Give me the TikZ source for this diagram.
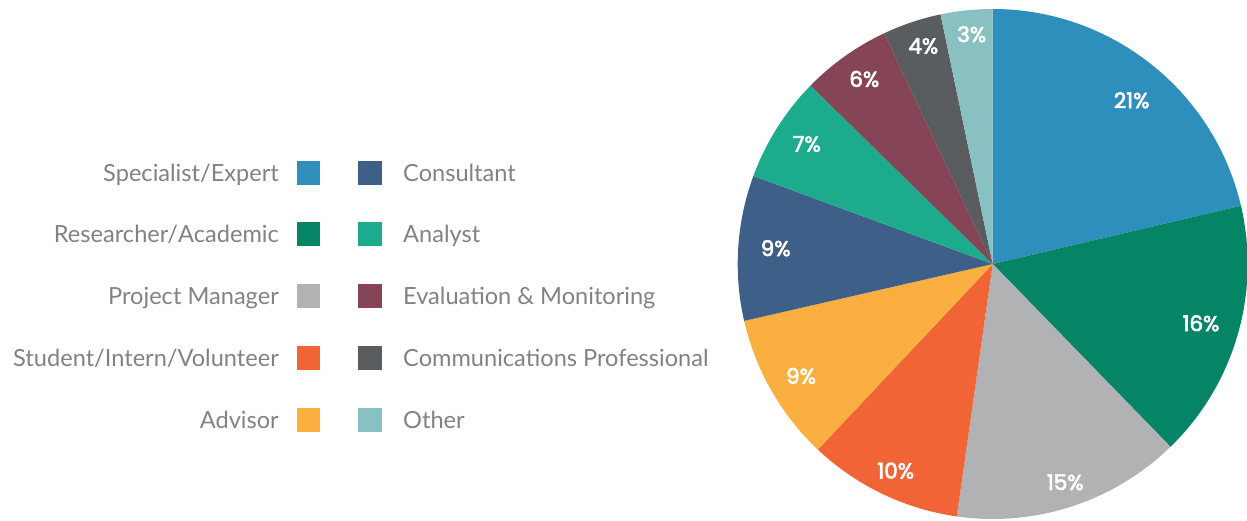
\documentclass[tikz,border=0pt]{standalone}
\usepackage{fontspec}
\setmainfont{Lato}
\newfontfamily\pctfont[FakeBold=3]{Poppins}
\definecolor{cSpec}{HTML}{2E8FBD}
\definecolor{cRes}{HTML}{068566}
\definecolor{cPM}{HTML}{B1B2B3}
\definecolor{cStu}{HTML}{F06436}
\definecolor{cAdv}{HTML}{FBAF41}
\definecolor{cCon}{HTML}{3E5F88}
\definecolor{cAna}{HTML}{1DAB8D}
\definecolor{cEva}{HTML}{864556}
\definecolor{cCom}{HTML}{5A5D5F}
\definecolor{cOth}{HTML}{89C0C1}
\definecolor{legtext}{HTML}{808285}
\begin{document}
\begin{tikzpicture}[x=1pt,y=-1pt,
  pct/.style={text=white,font=\pctfont\fontsize{21.5}{21.5}\selectfont,inner sep=0pt},
  legl/.style={text=legtext,font=\fontsize{23.6}{23.6}\selectfont,anchor=base east,inner sep=0pt},
  legr/.style={text=legtext,font=\fontsize{23.6}{23.6}\selectfont,anchor=base west,inner sep=0pt},
  sq/.style={minimum size=23.5pt,inner sep=0pt,draw=none}]
\useasboundingbox (0,0) rectangle (1247,521);
\coordinate (c) at (992.7,264);
\def\R{255}
\foreach \a/\b/\col in {0/76.8/cSpec, 76.8/135.8/cRes, 135.8/188.1/cPM, 188.1/223.3/cStu,
  223.3/257.1/cAdv, 257.1/290.2/cCon, 290.2/314.4/cAna, 314.4/334.8/cEva,
  334.8/348.2/cCom, 348.2/360/cOth}{
  \fill[\col] (c) -- ++({\a-90}:\R) arc[start angle={\a-90}, end angle={\b-90}, radius=\R] -- cycle;
}
% percentage labels
\node[pct] (p1) at (1131.7,100.3) {21\%};
\node[pct] (p2) at (1201,323.3) {16\%};
\node[pct] (p3) at (1065.3,482.3) {15\%};
\node[pct] (p4) at (895.7,470.7) {10\%};
\node[pct] (p5) at (801,376) {9\%};
\node[pct] (p6) at (775.7,248.3) {9\%};
\node[pct] (p7) at (806.7,144) {7\%};
\node[pct] (p8) at (864.3,79) {6\%};
\node[pct] (p9) at (923.3,46) {4\%};
\node[pct] (p10) at (971.7,34.3) {3\%};
% legend
\foreach \i/\y/\lt/\lc/\rt/\rc in {
  1/172.8/Specialist\slash Expert/cSpec/Consultant/cCon,
  2/233.8/Researcher\slash Academic/cRes/Analyst/cAna,
  3/295.8/Project Manager/cPM/Evaluation \& Monitoring/cEva,
  4/357.8/Student\slash Intern\slash Volunteer/cStu/Communications Professional/cCom,
  5/419.8/Advisor/cAdv/Other/cOth}{
  \node[sq,fill=\lc] (ls\i) at (308.5,\y) {};
  \node[sq,fill=\rc] (rs\i) at (370,\y) {};
  \node[legl] (lt\i) at (279,\y+8.5) {\lt};
  \node[legr] (rt\i) at (403,\y+8.5) {\rt};
}
\end{tikzpicture}
\end{document}
